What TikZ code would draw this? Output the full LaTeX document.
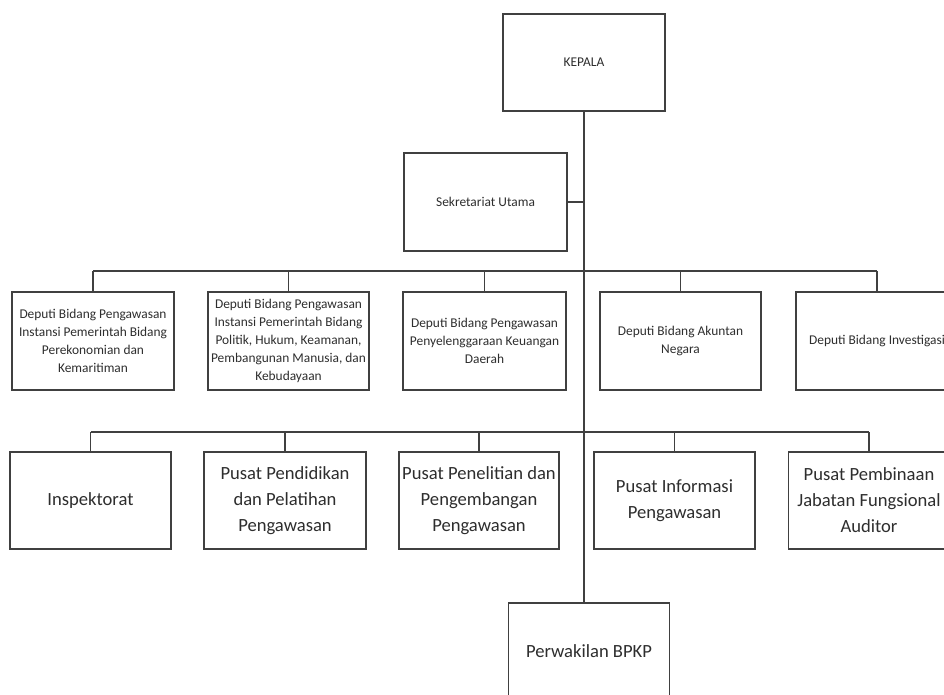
\documentclass[tikz,border=0pt]{standalone}
\usepackage{fontspec}
\setmainfont{Carlito}
\definecolor{ln}{HTML}{404040}
\definecolor{tx}{HTML}{2E2E2E}
\begin{document}
\begin{tikzpicture}[x=1pt,y=-1pt,
  box/.style={draw=ln,line width=1.4pt,fill=white,inner sep=0pt,align=center,text=tx},
  small/.style={box,font=\fontsize{13.4}{17.8}\selectfont},
  big/.style={box,font=\fontsize{18.6}{26}\selectfont},
  conn/.style={draw=ln,line width=1.4pt}]
\useasboundingbox[fill=white] (0,0) rectangle (944,694);
% top
\node[small,minimum width=162,minimum height=97] (kepala) at (584,62.5) {KEPALA};
\node[small,minimum width=163,minimum height=98] (sekr) at (485.5,202) {Sekretariat Utama};
% deputi row
\node[small,minimum width=162,minimum height=98] (d1) at (93,341) {Deputi Bidang Pengawasan\\Instansi Pemerintah Bidang\\Perekonomian dan\\Kemaritiman};
\node[small,minimum width=161,minimum height=98] (d2) at (288.5,341) {Deputi Bidang Pengawasan\\Instansi Pemerintah Bidang\\Politik, Hukum, Keamanan,\\Pembangunan Manusia, dan\\Kebudayaan};
\node[small,minimum width=163,minimum height=98] (d3) at (484.5,341) {Deputi Bidang Pengawasan\\Penyelenggaraan Keuangan\\Daerah};
\node[small,minimum width=161,minimum height=98] (d4) at (680.5,341) {Deputi Bidang Akuntan\\Negara};
\node[small,minimum width=162,minimum height=98] (d5) at (877,341) {Deputi Bidang Investigasi};
% pusat row
\node[big,minimum width=161,minimum height=97] (p1) at (90.5,500.5) {Inspektorat};
\node[big,minimum width=162,minimum height=97] (p2) at (285,500.5) {Pusat Pendidikan\\dan Pelatihan\\Pengawasan};
\node[big,minimum width=160,minimum height=97] (p3) at (479,500.5) {Pusat Penelitian dan\\Pengembangan\\Pengawasan};
\node[big,minimum width=161,minimum height=97] (p4) at (674.5,500.5) {Pusat Informasi\\Pengawasan};
\node[big,minimum width=161,minimum height=97] (p5) at (869,500.5) {Pusat Pembinaan\\Jabatan Fungsional\\Auditor};
% perwakilan
\node[big,minimum width=161,minimum height=97] (pw) at (589,651.5) {Perwakilan BPKP};
% buses
\coordinate (bus1) at (584,271);
\coordinate (bus2) at (584,432);
% trunk
\draw[conn] (kepala.south) -- (kepala.south |- pw.north);
\draw[conn] (sekr.east) -- (sekr.east -| kepala.south);
\draw[conn] (d1.north |- bus1) -- (d5.north |- bus1);
\draw[conn] (p1.north |- bus2) -- (p5.north |- bus2);
\foreach \n in {d1,d2,d3,d4,d5}{\draw[conn] (\n.north) -- (\n.north |- bus1);}
\foreach \n in {p1,p2,p3,p4,p5}{\draw[conn] (\n.north) -- (\n.north |- bus2);}
\end{tikzpicture}
\end{document}
